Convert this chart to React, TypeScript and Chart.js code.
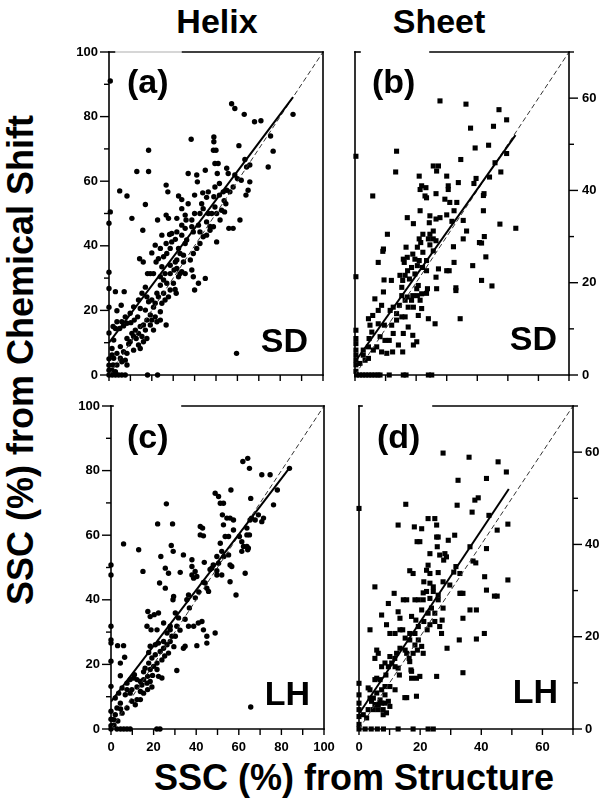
import React, { useEffect, useRef } from 'react';
import { Chart, registerables } from 'chart.js';
Chart.register(...registerables);

type P = [number, number];

// (a) Helix, SD
const helixSD: P[] = [
[0.6,91],[0.6,50.5],[0,47],[0,31.8],[0,26.8],[0,21],[0,13],[0,5],[0,3],[0,1.5],[0,0],[1.5,0],[3,0],[4.5,0],[6,0],[7.6,0],[18,0],[22.7,0],
[5,57],[8.4,55.4],[10.7,48.5],[13,63],[18.5,69.6],[18.5,63],[17,52.8],[15.8,44.8],[14.3,36],[16,35],[20,37.8],[22.7,48],[19.3,31.4],[22,35],
[26.7,58.8],[27.5,56.7],[26.7,49.5],[27.8,48.5],[24.7,43.3],[28.3,43.5],[26.7,40.7],[29.3,41.2],[31,42],[31.7,48.5],[32.5,55.4],[34,54.3],
[37,62.4],[38.4,73],[34,51.5],[35.6,49.5],[36,48],[38.7,48],[41,61.9],[41.3,59.8],[40,50],[39.4,44.3],[42.5,44.3],[45,63.4],[43.8,56.4],
[43.3,53],[46.4,50],[45.6,47.4],[47.2,46],[48.8,69.6],[49,73.7],[49,72.2],[50,69.6],[49.5,65.5],[51,65.5],[50.6,62.4],[51.6,59.3],[49.5,58.2],
[49,55.2],[51.6,55.7],[53.4,56.7],[55,57.2],[55.7,62.4],[55,64],[56.5,56.7],[58,58.2],[58.8,61.9],[60,60.8],[57.3,84],[58.8,82.5],[60.7,71],
[63.2,80.7],[63.5,66.7],[64.3,64.4],[65.8,65],[65,57.2],[64,55.7],[65.8,59.8],[61.2,48],[61.8,60.3],[68,78.4],[71,78.7],[75.5,74],[76.7,69.3],
[74.4,64.4],[86,80.7],[59.6,6.7],[50.3,41.2],[51.9,48],[52.6,51],[54,50.5],[56,45.4],[53.8,54],[54.6,53],[38.7,32.5],[39.4,30.4],[40,26.3],
[41.8,28.4],[45,29.9],[36.3,41.8],[35.6,40.7],[33.2,37.6],[31.7,35.6],[30.4,32.5],[31.4,25.3],[30.9,26.5],[26.7,15.5],[31.7,33],[34,32],
[34.8,35],[28.6,31.4],[25.5,29.4],[24,27.8],[27,28.4],[22.4,25.3],[20,23.2],[20.8,21],[17.7,24.2],[15.4,25.3],[19.3,18.6],[21.6,18],[17,20.1],
[14.6,20.6],[13.4,18],[11.8,17],[10.2,16.2],[8.4,16],[6.8,15.2],[5,14.4],[3,14.4],[3,25.8],[7.1,25.8],[5.7,21.6],[3.7,19.9],[12.3,13.9],
[14.6,15],[17,13.9],[19.3,15.5],[10.7,12.9],[8.4,11.3],[9.2,9.6],[13.8,9.3],[8.4,6.7],[7.6,4.6],[5.3,8.8],[3.7,6.7],[2.2,5.2],[1.9,3.1],
[3.7,3.1],[6,4.1],[8.4,3.1],[1.4,1.5],[3,1],[12.7,11.3],[15.4,11.9],[17.7,11.3],[16.1,10.3],[14.6,8.2],[11.5,7.7],[20.8,13.9],[22.4,16.5],
[24,19.6],[24.7,22.2],[26.2,23.2],[27.8,24.2],[28.6,26.3],[30.1,28.4],[32.5,30.4],[33.2,31.4],[35.6,31.4],[38,35.6],[39.4,37.6],[41,39.2],
[42.5,40.7],[44,42.8],[45.6,43.3],[47.2,44.8],[48.8,45.9],[48,50],[50.3,50],[58,45.4],[40,55.7],[37,53],[34,46.4],[31.7,44.3],[29.3,43.8],
[24,39.2],[21.6,40.2],[23.1,36],[25.5,36.6],[27,37.6],[24.7,33.5],[20.8,31.4],[18,31.4],[17,27.2],[13.8,23.2],[11.5,21.1],[9.9,19.1],
[7.6,18],[6,16.5],[3.7,16.5],[1.9,15],[2.2,10.8],[1.4,8.2],[1.4,6.2],[5.3,5.2],[6.8,7.2],[9.9,10.3],[11.5,11.9],[13.8,12.9],[16.1,15.5],
[17.7,17],[20,17],[24,17],[18.5,22.7],[21.6,22.2],[23.1,24.2],[25.5,25.3],[24,30.4],[26.2,31.4],[28.6,34],[31,35],[28.6,39.2],[32.5,39.2],
[34.8,37.1],[34,43.3],[35.6,45.4],[38.7,45.9],[41.8,46.4],[42.5,50],[44,51.5],[45.6,55],[46.4,56.7],[49.5,52]
];

// (b) Sheet, SD
const sheetSD: P[] = [
[0.3,47.4],[0.3,21.3],[0.3,9.7],[0.3,7.9],[0.3,6.8],[0.3,5.4],[0.3,4.3],[0.3,3.2],[0.3,2.2],[0.3,0.8],
[0.5,0],[1.5,0],[2.5,0],[3.5,0],[4.5,0],[5.5,0],[6.5,0],[7.5,0],[8.2,0],[11.2,0],[15.8,0],[16.7,0],[24,0],[25.1,0],
[5.8,38.8],[13.6,48.5],[13.3,44],[27.8,59.4],[36.3,58.7],[37.8,53.5],[47.1,57.5],[49.6,55.3],[45.3,53.9],[34.6,46.7],[39.3,49.2],
[43.7,49.8],[49.6,48],[45.8,46],[47.7,44],[44,42.9],[39.6,42.6],[38.9,41.5],[42,38.9],[42.2,39.3],[42,35.6],[47.4,32.7],[52.6,31.8],
[42.3,30],[40.7,28.7],[41.4,28.6],[42.8,25.6],[38.5,23.7],[41.4,20.5],[44.8,19.3],[34.4,12.2],[30,43.1],[33.8,41.7],[30.5,41],[30.5,40.2],
[27.3,45.3],[25.6,45.3],[26.7,44.2],[21,43.1],[21.8,41],[21.3,40.2],[23.2,40.6],[22.9,38.8],[23.4,38.4],[26.5,39.3],[29.4,38.1],[31,37.4],
[33.3,37.4],[32.4,35.6],[30,34.7],[27.8,34.1],[24.5,34.5],[21.3,35.6],[17.1,34.1],[19.1,32.8],[24.3,33],[26.5,33.8],[35.4,33.5],[31.7,33.3],
[36.5,31.2],[35.4,29.5],[32.2,27.8],[32.4,24.4],[30,22.6],[30.8,22.6],[27.3,23],[26.7,18.7],[33,18.9],[33,18.3],[26.5,21.2],[24,12.2],
[26.2,11.1],[10.6,30.5],[9.3,27.3],[9.1,26.8],[7.6,24.4],[9.5,20.6],[11.9,20.5],[9.3,18],[6.5,16.5],[8.7,15.1],[7.6,14],[9.6,10.8],
[12,10.8],[4.9,10.8],[5.5,9.3],[4.6,7.9],[11.2,7.5],[14.2,6.5],[15.6,5],[19.1,6.5],[20.2,7.2],[17.4,10.4],[18.9,8.6],[15.8,9],[17.4,14.7],
[19.1,14.7],[21.8,14.4],[20.7,12.9],[21.3,16.2],[18.5,16.2],[14.5,15.1],[12.5,14.7],[11.5,14],[13.6,13.3],[15.3,12.6],[16.4,12.6],
[13.6,11.9],[16.4,16.2],[15.3,17.2],[17.1,16.9],[18.9,17.2],[20.4,17.2],[21.8,17.6],[23.4,17.7],[23.7,18.7],[20.2,18.7],[20.7,19.4],
[19.6,21.9],[17.8,20.8],[15.6,20.5],[14.7,21.6],[16.4,21.6],[15.3,19],[17.2,22.6],[16.1,24.4],[15.8,25.1],[18.9,26.2],[16.7,27.7],
[17.1,25.5],[19.6,25.1],[21,24.8],[23.4,24.8],[22.2,26.6],[20.4,27.7],[21.5,28.7],[21,29.5],[24,29.5],[22.2,30.5],[24.5,30.5],[25.6,31.2],
[25.6,29.5],[26.5,29.1],[24.5,28.2],[25.6,26.9],[23.4,22.6],[22.1,23.3],[20.4,23.7],[18.5,23.3],[5.8,12.9],[4.4,12.2],[4.4,6.1],[2.7,5.4],
[2.7,4.3],[6,5.4],[7.1,6.1],[8.7,5],[10.4,4.7],[12.3,5],[3.3,3.2],[4.4,3.6],[1.6,2.5],[7.6,11.1],[8.2,8.3],[9.8,7.5],[12.5,9]
];

// (c) Helix, LH
const helixLH: P[] = [
[0,50.8],[0,47.7],[0,31.8],[0,27.6],[0,26.6],[0,21],[0,13.2],[0,5.5],[0,3],[0,1],[0,0],[2.8,0],[4.5,0],[6,0],[7.5,0],[9,0],[21.5,0],[23,0],
[5.9,57.3],[13,55.5],[15,48.8],[3.1,25.8],[5.9,25.8],[4.4,20.4],[6.4,22.2],[4.4,16.5],[21.9,63.5],[26,69.7],[28.9,63.5],[28.3,56.8],
[29.2,55],[23.4,53.4],[22.8,45.2],[25.5,49.8],[27,48.2],[25.5,43.6],[29.4,41],[29.1,40],[17.3,36.4],[18.4,34.8],[20.3,35.4],[22.3,35.9],
[16.9,31.8],[18.8,30.7],[21.6,30.7],[24.7,32.8],[27.8,31.8],[30.2,35.9],[32.5,48.5],[34,53.9],[38,52.4],[38,50.3],[38,47.7],[39.5,48.8],
[40.3,47.2],[38.8,46.7],[41.9,62.7],[43,62.2],[41.9,60.1],[43.4,59.8],[43.8,51.6],[45,43.6],[45.8,42.6],[43.4,45.4],[48.9,29.7],[40.3,25.8],
[45,26.6],[35.6,40],[36.4,41.5],[34.8,34],[36.4,31.8],[38.8,31.8],[41,32.8],[42.7,33.3],[43.4,30.7],[45,28.7],[34,25],[34.8,25.6],
[30.9,18.1],[31.7,34.4],[30.9,31.8],[48.9,73],[50.5,72],[51.3,69.9],[52.8,69.9],[56.3,74],[52.3,66.3],[54.4,65.3],[55.9,65.3],[57.5,64.7],
[52.8,63.2],[53.6,59.6],[55.2,59.6],[57.5,61.6],[51.3,57.5],[52,55],[49.7,53.4],[53,53.4],[50.5,51.3],[48,50.8],[47.3,49.8],[49.7,49],
[52,47.7],[49.7,47.7],[55.2,53.9],[55.9,50.8],[56.7,50.3],[55.9,45.6],[58.7,41.5],[60.3,59.6],[61.4,58],[62.2,56.5],[61.4,55],[63.8,56.5],
[64.5,56],[64.2,55.5],[63.8,60.1],[65,60.1],[63.8,62.2],[65.3,64.7],[66,65.3],[63,48.2],[61.9,82.8],[64.2,83.8],[65,80.7],[65.6,71.4],
[67.7,64.7],[69.2,66.3],[70.8,64.2],[71.6,65.3],[70.8,78.7],[74.7,78.7],[76.3,69.4],[78.1,74],[83.8,80.7],[65.6,6.8],
[2,9.6],[3.6,11.1],[5.2,12.7],[7.5,14.2],[9,15.3],[10.6,15.8],[12.2,15.3],[13.8,14.7],[15.3,15.3],[16.9,14.2],[18.4,14.7],[7.5,12.2],
[9.8,12.2],[12.2,13],[9,11.1],[6.7,10.6],[4.4,8],[2.8,6.5],[2,4.4],[1.3,2.9],[5.2,4.9],[7.5,6.5],[11.4,7.5],[13.8,9.1],[15.3,11.1],
[17.2,12.2],[19.2,13],[17.2,16.3],[18.4,18.4],[20,19.4],[21.6,20.4],[17.7,20.4],[19.2,22],[20.8,23],[23.1,24],[24.7,25],[26.3,26.1],
[27.8,27.1],[28.6,28.7],[30.2,28.7],[27,23.5],[23.9,21.4],[21.6,18.4],[22.3,16.3],[23.9,15.8],[15.3,17.7],[13.8,11.6],[20.8,26.1],
[22.3,26.6],[24.7,27.1],[26.3,29.7],[27.8,30.7],[18.4,25.6],[17.7,23.7],[9.8,8.6],[12.2,9.1],[1.4,1.2],[3.2,2.5],[4.5,6.2],[11,16.8],
[14.5,13.6],[16,18.8],[19.5,16.6],[25.2,22.6],[29.5,25.5],[32.4,30.6],[36.8,37.5],[39.6,40.6],[41.2,42.4],[44.2,45.2],[46.5,49.4]
];

// (d) Sheet, LH
const sheetLH: P[] = [
[0,47.8],[0,9.9],[0,7.4],[0,5.6],[0,4.2],[0,2.7],[0,1],[0,0],[2,0],[4,0],[6,0],[8,0],[12.8,0],[17.7,0],[22.6,0],[24.3,0],
[27.5,59.8],[36,58.9],[45.5,57.9],[48.2,55.7],[32.4,53.9],[41.7,54.3],[15.3,48.7],[32.1,48.5],[37.9,49.6],[39,50.1],[37,47],[42.5,46.3],
[45.2,43.1],[48.7,44.4],[12.8,44.2],[18.1,43.8],[20.5,43.4],[19,40.6],[19.9,40.6],[22.6,45.6],[24.8,45.6],[25.4,44.2],[25.4,41.6],
[25.9,41.6],[23.2,38],[25.6,39.5],[26.4,37.7],[28.1,38],[27.7,36.6],[28.6,37.3],[29.2,40.9],[31.3,42],[31.7,35.2],[33,33.7],[33.3,29.4],
[34,29.4],[29.7,31.2],[27.5,31.9],[25.9,33.9],[22.6,35.5],[22.1,34.4],[23.2,33.7],[16.6,34.3],[17.7,33.7],[21.2,31.9],[23.2,31.6],
[24.3,30.8],[21,29.5],[22.1,29.8],[24.3,29.8],[25.9,29],[23.2,28.3],[25.9,28],[18.3,28],[19.4,28],[21,28],[15.6,28],[14.5,28],[11.5,29.4],
[9.6,27.2],[5.2,30.8],[7.4,24.7],[9,22.6],[10.1,20.7],[11.8,20.7],[13.4,21.5],[14.3,21.5],[3.6,21.5],[12.8,25.4],[13.4,24],[17.2,24.4],
[18.6,23.6],[20.5,25.8],[22.6,25.1],[23.7,26.2],[24.8,25.1],[24.8,23.3],[27.5,26.2],[27.2,23.6],[26.4,22.2],[23.2,22.6],[22.3,21.5],
[21.2,23.3],[19.4,22.2],[18.3,20.7],[16.6,20.7],[15.1,19.7],[16.6,19.3],[18.3,18.2],[19.4,19.3],[20.5,17.9],[19.1,17.1],[21,16.4],
[17.7,16.4],[16.4,15.3],[15.6,16.4],[15.1,17.1],[13.4,17.5],[12.3,16.4],[11.7,15.3],[10.1,15.7],[10.7,14.3],[11.8,13.5],[9.6,13.5],
[7.4,13.5],[6.3,16.4],[5.2,15.3],[5.8,17.1],[8.5,14.3],[8.8,11.7],[12.8,13.2],[13.2,11.7],[16.6,14.6],[17.2,12.5],[17.2,11],[18.8,11],
[19.9,11.4],[17,12.8],[18.8,7.1],[15,6.8],[15.6,6.8],[25.4,11.4],[27,20.7],[28.8,17.5],[32.8,19.3],[34,12.2],[36.3,25.8],[38.4,19.5],
[41,20.7],[38.4,25.8],[41.7,30.1],[41.1,33],[44.3,28.8],[45.2,28.8],[48.7,32.3],[41.7,39.1],[36.3,39.5],[37.3,36.4],[38.2,36],[33,29.4],
[34,24],[31,34],[5.2,10.7],[5.8,11],[6.9,10.7],[3,8.9],[3.6,8.5],[3.6,6.7],[4.7,6.7],[4.1,6],[5.2,5.3],[6.3,5.3],[7.4,5.6],[8.5,5.6],
[9.6,6],[10.1,4.9],[7.9,4.2],[6.3,4.2],[4.7,4.2],[3,4.2],[2.5,2.4],[1.4,3.1],[5.8,7.8],[7.4,8.5],[8.5,7.4],[8.5,9.2],[10.1,9.2],
[11.8,8.5],[6.9,6.3],[9,3.5],[7.9,3.1]
];

// fitted (solid) and identity (dashed) lines
const helixSDFit: P[] = [[0, 10], [86, 86]];
const helixLHFit: P[] = [[0, 8.5], [84, 81]];
const sheetSDFit: P[] = [[0.5, 3.3], [52.5, 52]];
const sheetLHFit: P[] = [[0, 3.3], [49, 52]];
const helixIdentity: P[] = [[0, 0], [100, 100]];
const sheetIdentity: P[] = [[0, 0], [70, 70]];

const helixMax = 100;
const sheetMax = 70;
const labelStep = 20;
const minorStep = 10;

const FONT = "'Liberation Sans', Arial, Helvetica, sans-serif";

type PanelProps = {
  left: number; top: number; width: number; height: number;
  pad: { left: number; right: number; top: number; bottom: number };
  yWidth: number; xHeight: number; yPos: 'left' | 'right';
  max: number; points: P[]; fit: P[]; identity: P[];
  marker: 'circle' | 'rect'; showX: boolean; showY: boolean;
  gap: [number, number]; gapColor: string | null;
  yPad: number;
};

function Panel(p: PanelProps) {
  const ref = useRef<HTMLCanvasElement>(null);
  useEffect(() => {
    const frame = {
      id: 'frame',
      afterDraw(chart: any) {
        const { ctx } = chart;
        const { left, right, top, bottom } = chart.chartArea;
        const xs = chart.scales.x, ys = chart.scales.y;
        const line = (a: number, b: number, c: number, d: number) => {
          ctx.beginPath(); ctx.moveTo(a, b); ctx.lineTo(c, d); ctx.stroke();
        };
        ctx.save();
        ctx.strokeStyle = '#000';
        ctx.lineWidth = 1.6;
        ctx.lineCap = 'square';
        line(left, top, left, bottom);
        line(right, top, right, bottom);
        line(left, bottom, right, bottom);
        const g0 = left + p.gap[0], g1 = left + p.gap[1];
        line(left, top, g0, top);
        line(g1, top, right, top);
        ctx.lineCap = 'butt';
        if (p.gapColor) {
          ctx.strokeStyle = p.gapColor;
          line(g0, top, g1, top);
          ctx.strokeStyle = '#000';
        }
        ctx.lineWidth = 1.4;
        for (let v = 0; v <= p.max + 0.01; v += minorStep) {
          const x = xs.getPixelForValue(v);
          line(x, bottom, x, bottom + 6);
        }
        for (let v = 0; v <= p.max + 0.01; v += minorStep) {
          const y = ys.getPixelForValue(v);
          const len = v % labelStep === 0 ? 9 : 5;
          if (p.yPos === 'left') line(left - len, y, left, y);
          else line(right, y, right + len, y);
        }
        ctx.restore();
      },
    };
    const tickFont = { family: FONT, size: 13, weight: 'bold' as const };
    const cb = (v: any) => (Number(v) % labelStep === 0 ? String(v) : '');
    const chart = new Chart(ref.current!, {
      type: 'scatter',
      data: {
        datasets: [
          {
            data: p.points.map(([x, y]) => ({ x, y })),
            pointStyle: p.marker,
            pointRadius: p.marker === 'rect' ? 3.6 : 2.7,
            backgroundColor: '#000',
            borderColor: '#000',
            borderWidth: 0,
            clip: false as any,
            order: 3,
          },
          {
            data: p.identity.map(([x, y]) => ({ x, y })),
            showLine: true,
            borderColor: '#333',
            borderWidth: 1,
            borderDash: [5, 3],
            pointRadius: 0,
            order: 2,
          },
          {
            data: p.fit.map(([x, y]) => ({ x, y })),
            showLine: true,
            borderColor: '#000',
            borderWidth: 2,
            pointRadius: 0,
            order: 1,
          },
        ],
      },
      options: {
        responsive: false,
        maintainAspectRatio: false,
        animation: false,
        devicePixelRatio: 1,
        events: [],
        layout: { padding: p.pad },
        plugins: { legend: { display: false }, tooltip: { enabled: false } },
        scales: {
          x: {
            type: 'linear', position: 'bottom', min: 0, max: p.max,
            grid: { display: false, drawTicks: false },
            border: { display: false },
            ticks: { stepSize: labelStep, display: p.showX, padding: 11, font: tickFont, color: '#000', callback: cb, maxRotation: 0 },
            afterFit: (s: any) => { s.height = p.xHeight; s.paddingLeft = 0; s.paddingRight = 0; },
          },
          y: {
            type: 'linear', position: p.yPos, min: 0, max: p.max,
            grid: { display: false, drawTicks: false },
            border: { display: false },
            ticks: { stepSize: labelStep, display: p.showY, padding: p.yPad, font: tickFont, color: '#000', callback: cb },
            afterFit: (s: any) => { s.width = p.yWidth; s.paddingTop = 0; s.paddingBottom = 0; },
          },
        } as any,
      },
      plugins: [frame],
    } as any);
    return () => chart.destroy();
  }, []);
  return (
    <canvas
      ref={ref}
      width={p.width}
      height={p.height}
      style={{ position: 'absolute', left: p.left, top: p.top, width: p.width, height: p.height }}
    />
  );
}

const txt = (size: number): React.CSSProperties => ({
  position: 'absolute', fontFamily: FONT, fontWeight: 'bold', fontSize: size, lineHeight: `${size}px`,
  color: '#000', whiteSpace: 'nowrap', margin: 0,
});

export default function App() {
  return (
    <div style={{ position: 'absolute', left: 0, top: 0, width: 612, height: 805, background: '#fff', overflow: 'hidden' }}>
      <Panel left={60} top={40} width={280} height={350} pad={{ left: 0, right: 17, top: 12, bottom: 0 }}
        yWidth={49} xHeight={15} yPos="left" max={helixMax} points={helixSD} fit={helixSDFit} identity={helixIdentity}
        marker="circle" showX={false} showY={true} gap={[6, 73]} gapColor="#c8c8c8" yPad={11} />
      <Panel left={340} top={40} width={272} height={350} pad={{ left: 15, right: 0, top: 12, bottom: 0 }}
        yWidth={43} xHeight={15} yPos="right" max={sheetMax} points={sheetSD} fit={sheetSDFit} identity={sheetIdentity}
        marker="rect" showX={false} showY={true} gap={[5, 75]} gapColor={null} yPad={13} />
      <Panel left={60} top={395} width={280} height={360} pad={{ left: 0, right: 16, top: 11, bottom: 0 }}
        yWidth={51} xHeight={26} yPos="left" max={helixMax} points={helixLH} fit={helixLHFit} identity={helixIdentity}
        marker="circle" showX={true} showY={true} gap={[2, 71]} gapColor={null} yPad={11} />
      <Panel left={340} top={395} width={272} height={360} pad={{ left: 19, right: 0, top: 11, bottom: 0 }}
        yWidth={39} xHeight={26} yPos="right" max={sheetMax} points={sheetLH} fit={sheetLHFit} identity={sheetIdentity}
        marker="rect" showX={true} showY={true} gap={[3, 74]} gapColor={null} yPad={12} />

      <div style={{ ...txt(34), left: 117, top: 4, width: 200, textAlign: 'center' }}>Helix</div>
      <div style={{ ...txt(34), left: 339, top: 4, width: 200, textAlign: 'center' }}>Sheet</div>

      <div style={{ ...txt(34), left: 127, top: 64 }}>(a)</div>
      <div style={{ ...txt(34), left: 372, top: 64 }}>(b)</div>
      <div style={{ ...txt(34), left: 127, top: 419 }}>(c)</div>
      <div style={{ ...txt(34), left: 377, top: 419 }}>(d)</div>

      <div style={{ ...txt(34), right: 304, top: 323 }}>SD</div>
      <div style={{ ...txt(34), right: 55, top: 321 }}>SD</div>
      <div style={{ ...txt(34), right: 302, top: 676 }}>LH</div>
      <div style={{ ...txt(34), right: 54, top: 674 }}>LH</div>

      <div style={{ ...txt(36), left: 21 - 300, top: 360 - 20, width: 600, height: 40, lineHeight: '40px', textAlign: 'center', transform: 'rotate(-90deg)' }}>
        SSC (%) from Chemical Shift
      </div>
      <div style={{ ...txt(36), left: 354 - 250, top: 760, width: 500, textAlign: 'center' }}>
        SSC (%) from Structure
      </div>
    </div>
  );
}
